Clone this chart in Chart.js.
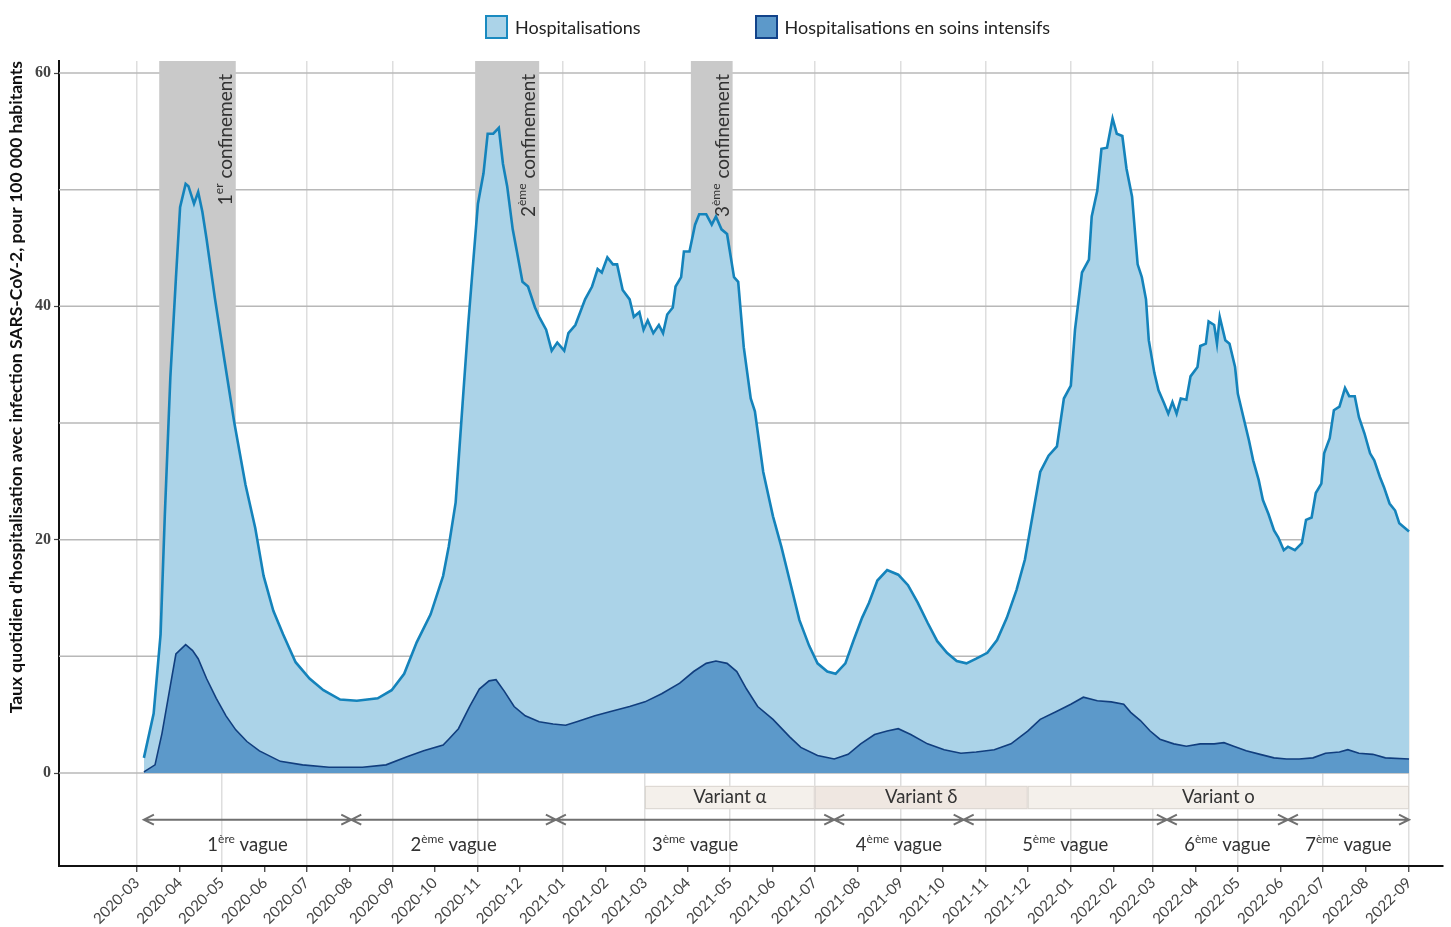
<!DOCTYPE html>
<html>
<head>
<meta charset="utf-8">
<script src="https://cdn.jsdelivr.net/npm/chart.js@4.4.1/dist/chart.umd.min.js"></script>
<style>
  body { margin: 0; background: #fff; }
  #wrap { position: relative; width: 1451px; height: 927px; }
  #legend { position: absolute; top: 15px; left: 485px; display: flex; align-items: center;
            font: 18px Lato, sans-serif; color: #222; }
  #legend .box { width: 19px; height: 20px; display: inline-block; margin-right: 7px; }
  #legend .item { display: flex; align-items: center; margin-right: 114px; }
</style>
</head>
<body>
<div id="wrap">
  <canvas id="chart" width="1451" height="927"></canvas>
  <div id="legend"></div>
</div>
<script>
// month tick labels on the x axis
const monthTicks = ['2020-03','2020-04','2020-05','2020-06','2020-07','2020-08','2020-09','2020-10','2020-11','2020-12',
  '2021-01','2021-02','2021-03','2021-04','2021-05','2021-06','2021-07','2021-08','2021-09','2021-10','2021-11','2021-12',
  '2022-01','2022-02','2022-03','2022-04','2022-05','2022-06','2022-07','2022-08','2022-09'];
const yTicks = [0, 10, 20, 30, 40, 50, 60];

const seriesNames = ['Hospitalisations', 'Hospitalisations en soins intensifs'];

// daily rate of hospitalisation, per 100 000
const hospDates = ['2020-03-06','2020-03-13','2020-03-18','2020-03-21','2020-03-25','2020-03-29','2020-04-01','2020-04-05',
  '2020-04-07','2020-04-11','2020-04-14','2020-04-17','2020-04-20','2020-04-26','2020-05-03','2020-05-10','2020-05-18',
  '2020-05-25','2020-05-31','2020-06-07','2020-06-14','2020-06-23','2020-07-03','2020-07-13','2020-07-25','2020-08-06',
  '2020-08-21','2020-08-31','2020-09-09','2020-09-18','2020-09-28','2020-10-07','2020-10-11','2020-10-16','2020-10-21',
  '2020-10-25','2020-10-28','2020-11-01','2020-11-05','2020-11-08','2020-11-12','2020-11-16','2020-11-19','2020-11-22',
  '2020-11-26','2020-11-29','2020-12-03','2020-12-07','2020-12-12','2020-12-15','2020-12-20','2020-12-24','2020-12-28',
  '2021-01-02','2021-01-05','2021-01-10','2021-01-17','2021-01-22','2021-01-26','2021-01-29','2021-02-02','2021-02-06',
  '2021-02-09','2021-02-13','2021-02-18','2021-02-21','2021-02-25','2021-02-28','2021-03-03','2021-03-07','2021-03-11',
  '2021-03-14','2021-03-17','2021-03-21','2021-03-23','2021-03-27','2021-03-29','2021-04-02','2021-04-06','2021-04-09',
  '2021-04-14','2021-04-18','2021-04-21','2021-04-25','2021-04-29','2021-05-04','2021-05-07','2021-05-11','2021-05-16',
  '2021-05-19','2021-05-25','2021-06-01','2021-06-07','2021-06-13','2021-06-20','2021-06-27','2021-07-03','2021-07-10',
  '2021-07-16','2021-07-23','2021-07-29','2021-08-04','2021-08-09','2021-08-15','2021-08-22','2021-08-30','2021-09-06',
  '2021-09-13','2021-09-20','2021-09-27','2021-10-04','2021-10-11','2021-10-18','2021-10-25','2021-11-02','2021-11-09',
  '2021-11-16','2021-11-23','2021-11-29','2021-12-05','2021-12-10','2021-12-16','2021-12-22','2021-12-27','2022-01-01',
  '2022-01-04','2022-01-09','2022-01-14','2022-01-16','2022-01-20','2022-01-23','2022-01-27','2022-01-31','2022-02-03',
  '2022-02-07','2022-02-10','2022-02-14','2022-02-18','2022-02-21','2022-02-24','2022-02-26','2022-03-02','2022-03-05',
  '2022-03-09','2022-03-12','2022-03-15','2022-03-18','2022-03-21','2022-03-25','2022-03-28','2022-04-02','2022-04-04',
  '2022-04-08','2022-04-10','2022-04-14','2022-04-16','2022-04-18','2022-04-22','2022-04-25','2022-04-29','2022-05-01',
  '2022-05-05','2022-05-09','2022-05-12','2022-05-16','2022-05-19','2022-05-23','2022-05-27','2022-05-30','2022-06-03',
  '2022-06-06','2022-06-11','2022-06-16','2022-06-19','2022-06-23','2022-06-26','2022-06-30','2022-07-02','2022-07-06',
  '2022-07-09','2022-07-13','2022-07-17','2022-07-20','2022-07-24','2022-07-27','2022-07-31','2022-08-04','2022-08-07',
  '2022-08-11','2022-08-14','2022-08-18','2022-08-22','2022-08-25','2022-09-01'];
const hospValues = [1.3,5.1,11.9,22.0,33.9,42.4,48.5,50.5,
  50.3,48.8,49.8,48.1,45.8,40.7,35.3,30.0,24.7,
  21.0,16.9,13.9,11.9,9.5,8.1,7.1,6.3,6.2,
  6.4,7.1,8.5,11.2,13.6,16.9,19.4,23.2,31.7,
  38.4,42.9,48.8,51.4,54.8,54.8,55.3,52.2,50.3,
  46.6,44.7,42.1,41.7,39.9,39.1,38.0,36.2,36.9,
  36.2,37.7,38.4,40.6,41.7,43.2,42.9,44.2,43.6,
  43.6,41.4,40.6,39.1,39.5,38.0,38.8,37.7,38.4,
  37.7,39.3,39.9,41.7,42.5,44.7,44.7,47.0,47.9,
  47.9,47.0,47.7,46.6,46.2,42.5,42.1,36.5,32.1,
  31.0,25.8,22.0,19.4,16.5,13.1,10.9,9.4,8.7,
  8.5,9.4,11.4,13.3,14.6,16.5,17.4,17.0,16.1,
  14.6,12.9,11.3,10.3,9.6,9.4,9.8,10.3,11.4,
  13.3,15.7,18.3,22.4,25.8,27.2,28.0,32.1,33.2,
  38.0,42.9,44.0,47.7,49.9,53.5,53.6,56.1,54.8,
  54.6,51.8,49.4,43.6,42.5,40.6,37.1,34.3,32.8,
  31.7,30.8,31.8,30.8,32.1,32.0,34.0,34.8,36.6,
  36.8,38.7,38.4,36.8,39.1,37.1,36.8,34.8,32.5,
  30.5,28.5,26.8,25.1,23.4,22.2,20.8,20.2,19.1,
  19.4,19.1,19.7,21.7,21.9,24.0,24.8,27.4,28.7,
  31.1,31.4,33.0,32.3,32.3,30.5,29.1,27.4,26.8,
  25.4,24.5,23.1,22.5,21.4,20.7];

// daily rate of intensive care admissions, per 100 000
const icuDates = ['2020-03-06','2020-03-14','2020-03-19','2020-03-25','2020-03-29','2020-04-05','2020-04-10','2020-04-14',
  '2020-04-20','2020-04-27','2020-05-04','2020-05-11','2020-05-19','2020-05-28','2020-06-12','2020-06-28','2020-07-17',
  '2020-08-10','2020-08-27','2020-09-11','2020-09-23','2020-10-07','2020-10-11','2020-10-18','2020-10-26','2020-11-02',
  '2020-11-09','2020-11-14','2020-11-20','2020-11-27','2020-12-05','2020-12-15','2020-12-25','2021-01-03','2021-01-11',
  '2021-01-24','2021-02-05','2021-02-18','2021-03-01','2021-03-13','2021-03-26','2021-04-05','2021-04-14','2021-04-21',
  '2021-04-29','2021-05-06','2021-05-13','2021-05-21','2021-06-01','2021-06-13','2021-06-21','2021-07-03','2021-07-15',
  '2021-07-25','2021-08-03','2021-08-13','2021-08-22','2021-08-30','2021-09-08','2021-09-20','2021-10-02','2021-10-14',
  '2021-10-25','2021-11-07','2021-11-19','2021-12-01','2021-12-10','2021-12-22','2022-01-01','2022-01-10','2022-01-20',
  '2022-01-30','2022-02-08','2022-02-13','2022-02-20','2022-02-27','2022-03-06','2022-03-16','2022-03-25','2022-04-04',
  '2022-04-14','2022-04-21','2022-04-28','2022-05-07','2022-05-17','2022-05-27','2022-06-05','2022-06-14','2022-06-24',
  '2022-07-03','2022-07-13','2022-07-19','2022-07-27','2022-08-06','2022-08-15','2022-09-01'];
const icuValues = [0.1,0.7,3.4,7.5,10.2,11.0,10.5,9.8,
  8.1,6.4,4.9,3.7,2.7,1.9,1.0,0.7,0.5,
  0.5,0.7,1.4,1.9,2.4,2.9,3.8,5.7,7.2,
  7.9,8.0,7.0,5.7,4.9,4.4,4.2,4.1,4.4,
  4.9,5.3,5.7,6.1,6.8,7.7,8.7,9.4,9.6,
  9.4,8.7,7.2,5.7,4.6,3.1,2.2,1.5,1.2,
  1.6,2.5,3.3,3.6,3.8,3.3,2.5,2.0,1.7,
  1.8,2.0,2.5,3.6,4.6,5.3,5.9,6.5,6.2,
  6.1,5.9,5.2,4.5,3.6,2.9,2.5,2.3,2.5,
  2.5,2.6,2.3,1.9,1.6,1.3,1.2,1.2,1.3,
  1.7,1.8,2.0,1.7,1.6,1.3,1.2];

// lockdown periods
const confStart = ['2020-03-17', '2020-10-30', '2021-04-03'];
const confEnd = ['2020-05-11', '2020-12-15', '2021-05-03'];
const confLabels = [['1', 'er', ' confinement'], ['2', 'ème', ' confinement'], ['3', 'ème', ' confinement']];

// dominant variants
const variantStart = ['2021-03-01', '2021-07-01', '2021-12-01'];
const variantEnd = ['2021-07-01', '2021-12-01', '2022-09-01'];
const variantLabels = ['Variant α', 'Variant δ', 'Variant ο'];

// epidemic waves (boundaries)
const waveBounds = ['2020-03-06', '2020-08-02', '2020-12-27', '2021-07-15', '2021-10-16', '2022-03-11', '2022-06-06', '2022-09-01'];
const waveLabels = [['1', 'ère', ' vague'], ['2', 'ème', ' vague'], ['3', 'ème', ' vague'], ['4', 'ème', ' vague'],
  ['5', 'ème', ' vague'], ['6', 'ème', ' vague'], ['7', 'ème', ' vague']];

const T0 = Date.UTC(2020, 2, 1);
function day(s) {
  const p = s.split('-').map(Number);
  return (Date.UTC(p[0], p[1] - 1, p[2] || 1) - T0) / 86400000;
}
const tickDays = monthTicks.map(day);

const FONT = 'Lato, sans-serif';

function drawRich(ctx, parts, x, y, align, size) {
  const big = size + 'px ' + FONT, small = Math.round(size * 0.64) + 'px ' + FONT;
  ctx.font = big; const w0 = ctx.measureText(parts[0]).width; const w2 = ctx.measureText(parts[2]).width;
  ctx.font = small; const w1 = ctx.measureText(parts[1]).width;
  const tot = w0 + w1 + w2;
  let sx = align === 'right' ? x - tot : x - tot / 2;
  ctx.textAlign = 'left'; ctx.textBaseline = 'middle';
  ctx.font = big; ctx.fillText(parts[0], sx, y);
  ctx.font = small; ctx.fillText(parts[1], sx + w0, y - size * 0.36);
  ctx.font = big; ctx.fillText(parts[2], sx + w0 + w1, y);
}

const decor = {
  id: 'decor',
  beforeDatasetsDraw(chart) {
    const { ctx, chartArea: a, scales: { x, y } } = chart;
    ctx.save();
    // horizontal grid lines
    const xEnd = x.getPixelForValue(day(hospDates[hospDates.length - 1]));
    ctx.strokeStyle = '#b8b8b8'; ctx.lineWidth = 1.5;
    yTicks.forEach(v => {
      const py = y.getPixelForValue(v);
      ctx.beginPath(); ctx.moveTo(a.left, py); ctx.lineTo(xEnd, py); ctx.stroke();
    });
    // lockdown bands
    const top = y.getPixelForValue(y.max), base = y.getPixelForValue(0);
    confStart.forEach((s, i) => {
      const x0 = x.getPixelForValue(day(s)), x1 = x.getPixelForValue(day(confEnd[i]));
      ctx.fillStyle = '#c9c9c9';
      ctx.fillRect(x0, top, x1 - x0, base - top);
      ctx.save();
      ctx.translate(x1 - 10, y.getPixelForValue(60) + 1);
      ctx.rotate(-Math.PI / 2);
      ctx.fillStyle = '#333';
      drawRich(ctx, confLabels[i], 0, 0, 'right', 19);
      ctx.restore();
    });
    ctx.restore();
  },
  afterDatasetsDraw(chart) {
    const { ctx, scales: { x, y } } = chart;
    ctx.save();
    // variant boxes
    const vTop = y.getPixelForValue(-1.1), vBot = y.getPixelForValue(-3.1), vMid = y.getPixelForValue(-2.1);
    const fills = ['#f4f0eb', '#efe7e1', '#f4f0eb'];
    variantStart.forEach((s, i) => {
      const x0 = x.getPixelForValue(day(s)), x1 = x.getPixelForValue(day(variantEnd[i]));
      ctx.fillStyle = fills[i];
      ctx.fillRect(x0, vTop, x1 - x0, vBot - vTop);
      ctx.strokeStyle = '#dad5d0'; ctx.lineWidth = 1;
      ctx.strokeRect(x0 + 0.5, vTop + 0.5, x1 - x0 - 1, vBot - vTop - 1);
      ctx.fillStyle = '#333'; ctx.font = '18.5px ' + FONT;
      ctx.textAlign = 'center'; ctx.textBaseline = 'middle';
      ctx.fillText(variantLabels[i], (x0 + x1) / 2, vMid);
    });
    // wave arrows
    const ay = y.getPixelForValue(-4.0), ly = y.getPixelForValue(-6.2);
    ctx.strokeStyle = '#707070'; ctx.lineWidth = 2;
    for (let i = 0; i < waveBounds.length - 1; i++) {
      const x0 = x.getPixelForValue(day(waveBounds[i])), x1 = x.getPixelForValue(day(waveBounds[i + 1]));
      ctx.beginPath();
      ctx.moveTo(x0, ay); ctx.lineTo(x1, ay);
      ctx.moveTo(x0 + 10, ay - 5); ctx.lineTo(x0, ay); ctx.lineTo(x0 + 10, ay + 5);
      ctx.moveTo(x1 - 10, ay - 5); ctx.lineTo(x1, ay); ctx.lineTo(x1 - 10, ay + 5);
      ctx.stroke();
      ctx.fillStyle = '#333';
      drawRich(ctx, waveLabels[i], (x0 + x1) / 2, ly, 'center', 18.5);
    }
    ctx.restore();
  }
};

const hospPoints = hospDates.map((d, i) => ({ x: day(d), y: hospValues[i] }));
const icuPoints = icuDates.map((d, i) => ({ x: day(d), y: icuValues[i] }));

new Chart(document.getElementById('chart').getContext('2d'), {
  type: 'line',
  data: {
    datasets: [
      { label: seriesNames[1], data: icuPoints, borderColor: '#113e7e', backgroundColor: '#5c99ca',
        fill: 'origin', borderWidth: 1.6, pointRadius: 0, order: 1 },
      { label: seriesNames[0], data: hospPoints, borderColor: '#1483bb', backgroundColor: '#abd3e8',
        fill: 'origin', borderWidth: 2.6, pointRadius: 0, order: 2 }
    ]
  },
  options: {
    responsive: false,
    animation: false,
    layout: { padding: { top: 61, right: 8, left: 0, bottom: 0 } },
    plugins: { legend: { display: false }, tooltip: { enabled: false } },
    scales: {
      x: {
        type: 'linear', min: -56, max: 938.4,
        afterBuildTicks: s => { s.ticks = tickDays.map(v => ({ value: v })); },
        afterFit: s => { s.height = 61; },
        ticks: {
          autoSkip: false, minRotation: 45, maxRotation: 45, padding: 2,
          callback: (v, i) => monthTicks[i],
          font: { family: FONT, size: 15 }, color: '#444'
        },
        grid: {
          color: c => (c.index % 2 === 0 ? '#dedede' : 'rgba(0,0,0,0)'),
          lineWidth: 1.5, tickLength: 6, tickColor: '#333', tickWidth: 1.2
        },
        border: { color: '#111', width: 2 }
      },
      y: {
        min: -7.97, max: 61.03,
        afterBuildTicks: s => { s.ticks = yTicks.map(v => ({ value: v })); },
        afterFit: s => { s.width = 59; },
        ticks: {
          callback: v => (v % 20 === 0 ? String(v) : ''),
          font: { family: '"Liberation Serif", serif', size: 16, weight: 'bold' }, color: '#444', padding: 3
        },
        grid: {
          drawOnChartArea: false, tickLength: 5, tickWidth: 1.2,
          tickColor: c => (c.tick && c.tick.value % 20 === 0 ? '#444' : 'rgba(0,0,0,0)')
        },
        border: { color: '#111', width: 2 },
        title: {
          display: true, align: 'end',
          text: "Taux quotidien d'hospitalisation avec infection SARS-CoV-2, pour 100 000 habitants",
          font: { family: FONT, size: 17.5, weight: 'bold' }, color: '#111', padding: { top: 6, bottom: 0 }
        }
      }
    }
  },
  plugins: [decor]
});

// legend
const legendColors = [['#abd3e8', '#1a8ac0'], ['#5c99ca', '#12438a']];
document.getElementById('legend').innerHTML = seriesNames.map((n, i) =>
  '<span class="item"><span class="box" style="background:' + legendColors[i][0] + ';border:2px solid ' +
  legendColors[i][1] + '"></span>' + n + '</span>').join('');
</script>
</body>
</html>
